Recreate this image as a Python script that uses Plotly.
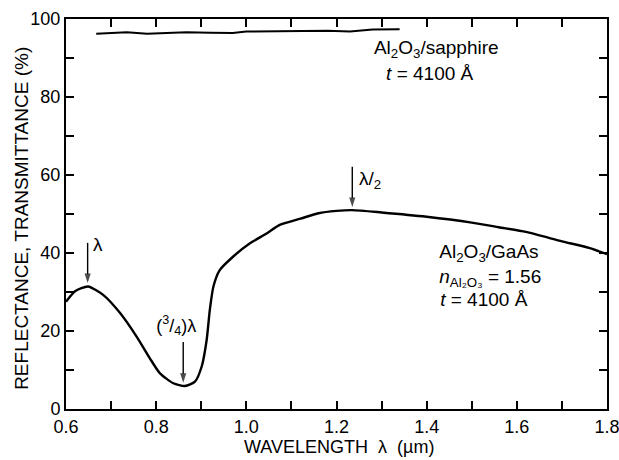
import plotly.graph_objects as go

# GaAs reflectance curve
gaas_wl = [0.600, 0.620, 0.649, 0.683, 0.720, 0.757, 0.786, 0.808, 0.838, 0.864,
           0.886, 0.901, 0.912, 0.919, 0.927, 0.941, 0.971, 1.008, 1.045, 1.074,
           1.12, 1.16, 1.20, 1.235, 1.30, 1.40, 1.50, 1.56, 1.62, 1.70, 1.76, 1.80]
gaas_r = [27.5, 30.2, 31.4, 29.2, 24.6, 18.5, 13.0, 9.2, 6.6, 5.9,
          7.0, 10.9, 17.7, 25.4, 31.4, 35.6, 39.1, 42.5, 45.0, 47.2,
          48.8, 50.2, 50.8, 51.0, 50.4, 49.3, 47.8, 46.6, 45.4, 43.0, 41.3, 39.7]

# Sapphire transmittance
sap_wl = [0.667, 0.70, 0.735, 0.78, 0.82, 0.867, 0.92, 0.97, 1.00, 1.06,
          1.12, 1.18, 1.23, 1.28, 1.34]
sap_t = [96.2, 96.4, 96.6, 96.2, 96.4, 96.6, 96.5, 96.4, 96.8, 96.9,
         97.0, 97.0, 96.8, 97.3, 97.4]

# ticks (major labelled, minor blank)
x_ticks = [0.6, 0.7, 0.8, 0.9, 1.0, 1.1, 1.2, 1.3, 1.4, 1.5, 1.6, 1.7, 1.8]
x_ticklabels = ["0.6", "", "0.8", "", "1.0", "", "1.2", "", "1.4", "", "1.6", "", "1.8"]
y_ticks = [0, 10, 20, 30, 40, 50, 60, 70, 80, 90, 100]
y_ticklabels = ["0", "", "20", "", "40", "", "60", "", "80", "", "100"]

# arrow markers: x, tail y, head y
arrows_x = [0.648, 0.86, 1.235]
arrows_tail = [42.6, 17.2, 62.1]
arrows_head = [32.3, 6.7, 51.8]

# text labels
label_x = [0.660, 0.800, 1.250, 1.283, 1.310, 1.428, 1.428, 1.430]
label_y = [41.8, 21.0, 58.7, 92.3, 85.6, 40.0, 33.6, 27.7]
label_text = ["λ", "(<sup>3</sup>/<sub>4</sub>)λ", "λ/<sub>2</sub>",
              "Al<sub>2</sub>O<sub>3</sub>/sapphire", "<i>t</i> = 4100 Å",
              "Al<sub>2</sub>O<sub>3</sub>/GaAs", "<i>n</i><sub>Al₂O₃</sub> = 1.56",
              "<i>t</i> = 4100 Å"]
label_size = [19, 18, 19, 19, 19, 19, 19, 19]

X_TITLE = "WAVELENGTH\u00a0\u00a0λ\u00a0\u00a0(µm)"
Y_TITLE = "REFLECTANCE, TRANSMITTANCE (%)"

FONT = "Liberation Sans, Arial, Helvetica, sans-serif"
INK = "black"

fig = go.Figure()
fig.add_trace(go.Scatter(x=gaas_wl, y=gaas_r, mode="lines",
                         line=dict(color=INK, width=2.4, shape="spline", smoothing=0.6),
                         showlegend=False, hoverinfo="skip"))
fig.add_trace(go.Scatter(x=sap_wl, y=sap_t, mode="lines",
                         line=dict(color=INK, width=2.0),
                         showlegend=False, hoverinfo="skip"))

for xa, yt, yh in zip(arrows_x, arrows_tail, arrows_head):
    fig.add_trace(go.Scatter(x=[xa, xa], y=[yt, yh], mode="lines+markers",
                             line=dict(color=INK, width=1.4),
                             marker=dict(symbol=["circle", "arrow"], size=[0, 10],
                                         angleref="previous", color=INK,
                                         line=dict(width=0)),
                             showlegend=False, hoverinfo="skip"))

fig.add_trace(go.Scatter(x=label_x, y=label_y, mode="text", text=label_text,
                         textposition="middle right",
                         textfont=dict(family=FONT, size=label_size, color=INK),
                         showlegend=False, hoverinfo="skip", cliponaxis=False))

# axis titles as paper-anchored text
fig.add_annotation(x=0.505, y=-0.097, xref="paper", yref="paper", text=X_TITLE,
                   showarrow=False, xanchor="center", yanchor="middle",
                   font=dict(family=FONT, size=18, color=INK))
fig.add_annotation(x=-0.081, y=0.488, xref="paper", yref="paper", text=Y_TITLE,
                   showarrow=False, xanchor="center", yanchor="middle", textangle=-90,
                   font=dict(family=FONT, size=19, color=INK))

fig.update_layout(
    xaxis=dict(range=[0.6, 1.8], tickmode="array", tickvals=x_ticks, ticktext=x_ticklabels,
               ticks="inside", ticklen=8, tickwidth=2, tickcolor=INK,
               showline=True, linecolor=INK, linewidth=2, mirror="ticks",
               showgrid=False, zeroline=False, ticklabeloverflow="allow",
               tickfont=dict(family=FONT, size=18, color=INK)),
    yaxis=dict(range=[0, 100], tickmode="array", tickvals=y_ticks, ticktext=y_ticklabels,
               ticks="inside", ticklen=8, tickwidth=2, tickcolor=INK,
               showline=True, linecolor=INK, linewidth=2, mirror="ticks",
               showgrid=False, zeroline=False,
               tickfont=dict(family=FONT, size=18, color=INK)),
)

fig.update_layout(width=619, height=460,
                  margin=dict(l=66, r=12, t=19, b=51, autoexpand=False),
                  paper_bgcolor="white", plot_bgcolor="white", showlegend=False)

fig.write_html("out.html", config={"displayModeBar": False},
               post_script="document.body.style.margin='0px';"
                           "document.body.style.padding='0px';")
